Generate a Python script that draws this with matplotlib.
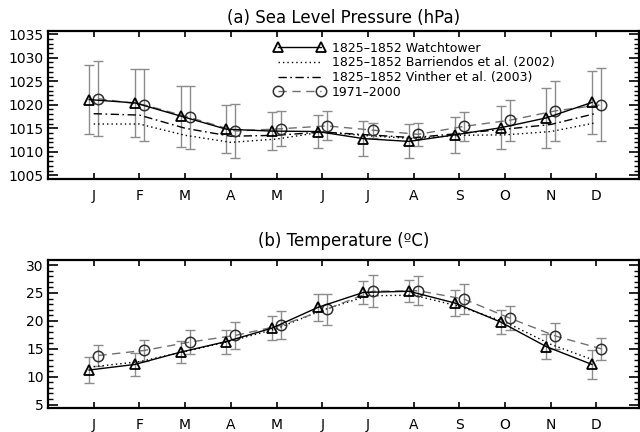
import numpy as np
import matplotlib
matplotlib.use("Agg")
import matplotlib.pyplot as plt
from matplotlib.lines import Line2D
from matplotlib.ticker import MultipleLocator

months = ["J", "F", "M", "A", "M", "J", "J", "A", "S", "O", "N", "D"]

# (a) Sea level pressure (hPa)
slp_watch = [1021.1, 1020.4, 1017.6, 1014.8, 1014.4, 1014.3, 1012.8, 1012.2, 1013.6, 1015.1, 1017.2, 1020.5]
slp_watch_sd = [7.35, 7.2, 6.5, 5.15, 4.1, 3.55, 3.75, 3.6, 3.8, 4.55, 6.45, 6.65]
slp_barr = [1015.9, 1015.9, 1013.5, 1012.0, 1012.7, 1014.2, 1013.4, 1012.8, 1013.5, 1013.6, 1014.3, 1016.2]
slp_vinth = [1018.1, 1017.8, 1015.0, 1013.3, 1013.5, 1014.2, 1013.6, 1013.0, 1013.9, 1014.8, 1015.8, 1018.2]
slp_modern = [1021.3, 1020.0, 1017.3, 1014.4, 1014.9, 1015.5, 1014.6, 1013.7, 1015.4, 1016.7, 1018.7, 1020.0]
slp_modern_sd = [8.0, 7.65, 6.65, 5.7, 3.75, 3.1, 1.6, 2.4, 3.15, 4.35, 6.35, 7.8]

# (b) Temperature (ºC)
t_watch = [11.2, 12.2, 14.4, 16.3, 18.7, 22.4, 25.1, 25.3, 23.2, 19.8, 15.4, 12.2]
t_watch_sd = [2.3, 2.0, 2.0, 2.15, 2.15, 2.5, 2.1, 2.0, 2.3, 2.1, 2.25, 2.65]
t_dotted = [11.8, 12.7, 14.5, 16.4, 18.6, 21.9, 24.5, 24.6, 22.6, 19.8, 15.8, 12.8]
t_modern = [13.8, 14.7, 16.2, 17.4, 19.2, 22.1, 25.3, 25.4, 23.9, 20.5, 17.3, 15.0]
t_modern_sd = [1.8, 1.95, 2.1, 2.35, 2.5, 2.75, 2.9, 2.6, 2.7, 2.2, 2.3, 1.95]

legend_labels = ["1825\u20131852 Watchtower",
                 "1825\u20131852 Barriendos et al. (2002)",
                 "1825\u20131852 Vinther et al. (2003)",
                 "1971\u20132000"]

plt.rcParams['font.family'] = ['DejaVu Sans']

fig = plt.figure(figsize=(6.4, 4.32), dpi=100)
W, H = 640.0, 432.0
left = 48 / W
width = (639 - 48) / W
ax1 = fig.add_axes([left, 1 - 179 / H, width, (179 - 31) / H])
ax2 = fig.add_axes([left, 1 - 408 / H, width, (408 - 260) / H])

x = np.arange(1, 13)
off = 0.1
ebar_col = "#8c8c8c"
dash_col = "#707070"
circ_col = "#303030"

def style_axis(ax, ylim, major, minor):
    ax.set_xlim(0, 12.93)
    ax.set_ylim(*ylim)
    ax.set_xticks(x)
    ax.set_xticklabels(months)
    ax.yaxis.set_major_locator(MultipleLocator(major))
    ax.yaxis.set_minor_locator(MultipleLocator(minor))
    ax.tick_params(axis='x', which='major', direction='in', top=True, bottom=True,
                   length=4, width=1.2, pad=7, labelsize=10)
    ax.tick_params(axis='y', which='major', direction='in', left=True, right=True,
                   length=7, width=1.2, pad=3, labelsize=10)
    ax.tick_params(axis='y', which='minor', direction='in', left=True, right=True,
                   length=3.5, width=1.0)
    ax.tick_params(axis='x', which='minor', bottom=False, top=False)
    for s in ax.spines.values():
        s.set_linewidth(1.6)

# ---- panel (a)
ax1.errorbar(x - off, slp_watch, yerr=slp_watch_sd, fmt='none', ecolor=ebar_col,
             elinewidth=1.0, capsize=3.5, capthick=1.0, zorder=1)
ax1.errorbar(x + off, slp_modern, yerr=slp_modern_sd, fmt='none', ecolor=ebar_col,
             elinewidth=1.0, capsize=3.5, capthick=1.0, zorder=1)
ax1.plot(x, slp_barr, color='black', lw=1.0, linestyle=(0, (1, 2.2)), zorder=2)
ax1.plot(x, slp_vinth, color='black', lw=1.0, linestyle=(0, (6, 2.5, 1.2, 2.5)), zorder=2)
ax1.plot(x + off, slp_modern, color=dash_col, lw=1.0, linestyle=(0, (6, 4)),
         marker='o', ms=7.5, mfc='none', mec=circ_col, mew=1.1, zorder=3)
ax1.plot(x - off, slp_watch, color='black', lw=1.0, marker='^', ms=7.5,
         mfc='none', mec='black', mew=1.3, zorder=4)
style_axis(ax1, (1004.2, 1035.7), 5, 1)
ax1.set_yticks(np.arange(1005, 1036, 5))

handles = [
    Line2D([], [], color='black', lw=1.0, marker='^', ms=7.5, mfc='none', mec='black', mew=1.3),
    Line2D([], [], color='black', lw=1.0, linestyle=(0, (1, 2.2))),
    Line2D([], [], color='black', lw=1.0, linestyle=(0, (6, 2.5, 1.2, 2.5))),
    Line2D([], [], color=dash_col, lw=1.0, linestyle=(0, (6, 4)), marker='o', ms=7.5,
           mfc='none', mec=circ_col, mew=1.1),
]
ax1.legend(handles, legend_labels, loc='upper left', bbox_to_anchor=(0.379, 0.945),
           frameon=False, numpoints=2, fontsize=9, handlelength=4.0,
           handletextpad=0.6, labelspacing=0.13, borderpad=0.2, borderaxespad=0)

fig.text(left + width / 2, 1 - 18 / H, "(a) Sea Level Pressure (hPa)",
         ha='center', va='center', fontsize=12)

# ---- panel (b)
ax2.errorbar(x - off, t_watch, yerr=t_watch_sd, fmt='none', ecolor=ebar_col,
             elinewidth=1.0, capsize=3.5, capthick=1.0, zorder=1)
ax2.errorbar(x + off, t_modern, yerr=t_modern_sd, fmt='none', ecolor=ebar_col,
             elinewidth=1.0, capsize=3.5, capthick=1.0, zorder=1)
ax2.plot(x, t_dotted, color='black', lw=1.0, linestyle=(0, (1, 2.2)), zorder=2)
ax2.plot(x + off, t_modern, color=dash_col, lw=1.0, linestyle=(0, (6, 4)),
         marker='o', ms=7.5, mfc='none', mec=circ_col, mew=1.1, zorder=3)
ax2.plot(x - off, t_watch, color='black', lw=1.0, marker='^', ms=7.5,
         mfc='none', mec='black', mew=1.3, zorder=4)
style_axis(ax2, (4.4, 30.9), 5, 1)
ax2.set_yticks(np.arange(5, 31, 5))

fig.text(left + width / 2, 1 - 241 / H, "(b) Temperature (\u00baC)",
         ha='center', va='center', fontsize=12)

fig.savefig("out.png", dpi=100)
